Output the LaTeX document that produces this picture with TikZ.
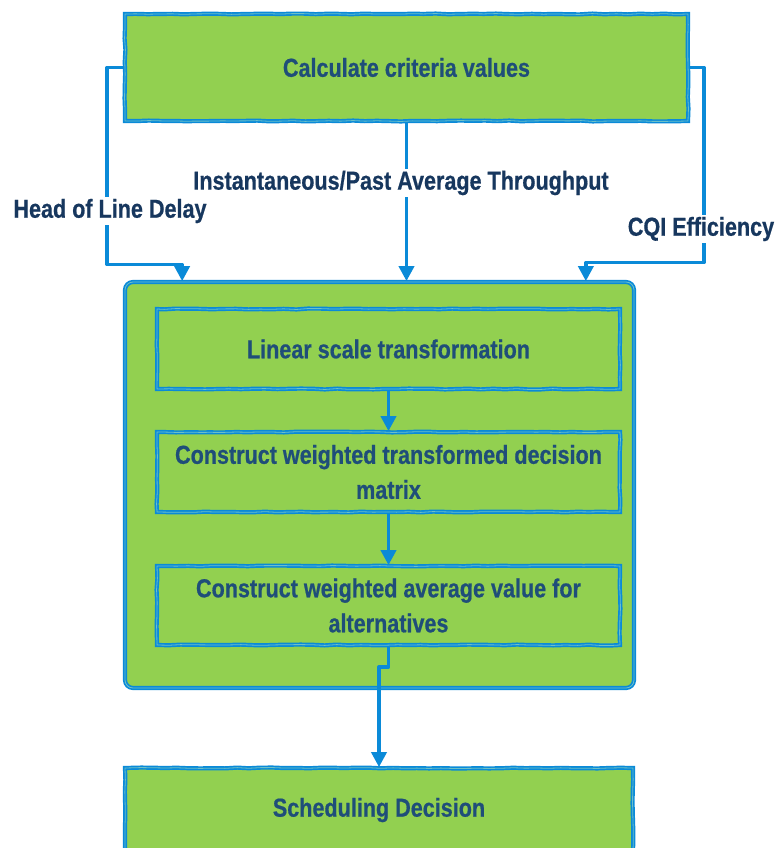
\documentclass[tikz,border=0pt]{standalone}
\usepackage{fontspec}
\newfontfamily\diagfont[FakeStretch=0.83, BoldFeatures={FakeBold=0.6}]{Liberation Sans}
\usetikzlibrary{arrows.meta,decorations.pathmorphing}
\definecolor{boxgreen}{HTML}{92D050}
\definecolor{pen}{HTML}{0A8AD8}
\definecolor{penlight}{HTML}{6CC0C8}
\definecolor{ink}{HTML}{1F4E79}
\definecolor{labelink}{HTML}{17375E}
\tikzset{
  wobble/.style={decorate, decoration={random steps, segment length=12pt, amplitude=0.45pt}},
  stepbox/.style={draw=pen, double=penlight, double distance=0.8pt, line width=1.7pt,
    fill=boxgreen, text=ink, font=\diagfont\bfseries\fontsize{26}{35}\selectfont,
    align=center, inner sep=0pt, wobble},
  frame/.style={draw=pen, double=penlight, double distance=0.8pt, line width=1.7pt,
    fill=boxgreen, rounded corners=8pt, inner sep=0pt},
  flow/.style={draw=pen, line width=3.6pt, line join=round,
    -{Triangle[length=15pt,width=15pt]}},
  flowlabel/.style={fill=white, text=labelink, inner sep=2pt,
    font=\diagfont\bfseries\fontsize{26}{30}\selectfont}
}
\begin{document}
\begin{tikzpicture}[x=1pt,y=-1pt]
  \useasboundingbox (0,0) rectangle (776,848);
  \clip (0,0) rectangle (776,848);

  % boxes
  \node[stepbox, minimum width=563pt, minimum height=107pt] (top) at (406.5,67.5)
    {Calculate criteria values};
  \node[frame, minimum width=509pt, minimum height=406pt] (big) at (379.5,485) {};
  \node[stepbox, minimum width=463pt, minimum height=80pt] (b1) at (388.5,349)
    {Linear scale transformation};
  \node[stepbox, minimum width=463pt, minimum height=80pt] (b2) at (388.5,472)
    {Construct weighted transformed decision\\matrix};
  \node[stepbox, minimum width=463pt, minimum height=79pt] (b3) at (388.5,605.5)
    {Construct weighted average value for\\alternatives};
  \node[stepbox, minimum width=508pt, minimum height=84pt] (bot) at (379,810)
    {Scheduling Decision};

  % criteria feeding the ranking stage
  \draw[flow] (top.west) -- ++(-17,0) -- ++(0,197) -| ([xshift=58pt]big.north west);
  \draw[flow] (top.south) -- (top.south |- big.north);
  \draw[flow] (top.east) -- ++(15,0) -- ++(0,195) -| ([xshift=-49pt]big.north east);

  % steps inside the ranking stage
  \draw[flow] (b1.south) -- (b2.north);
  \draw[flow] (b2.south) -- (b3.north);
  \draw[flow] (b3.south) -- ++(0,21) -| (bot.north);

  % criteria names
  \node[flowlabel] (hol) at (110,211) {Head of Line Delay};
  \node[flowlabel] (thr) at (401,183) {Instantaneous/Past Average Throughput};
  \node[flowlabel] (cqi) at (701,229) {CQI Efficiency};
\end{tikzpicture}
\end{document}
